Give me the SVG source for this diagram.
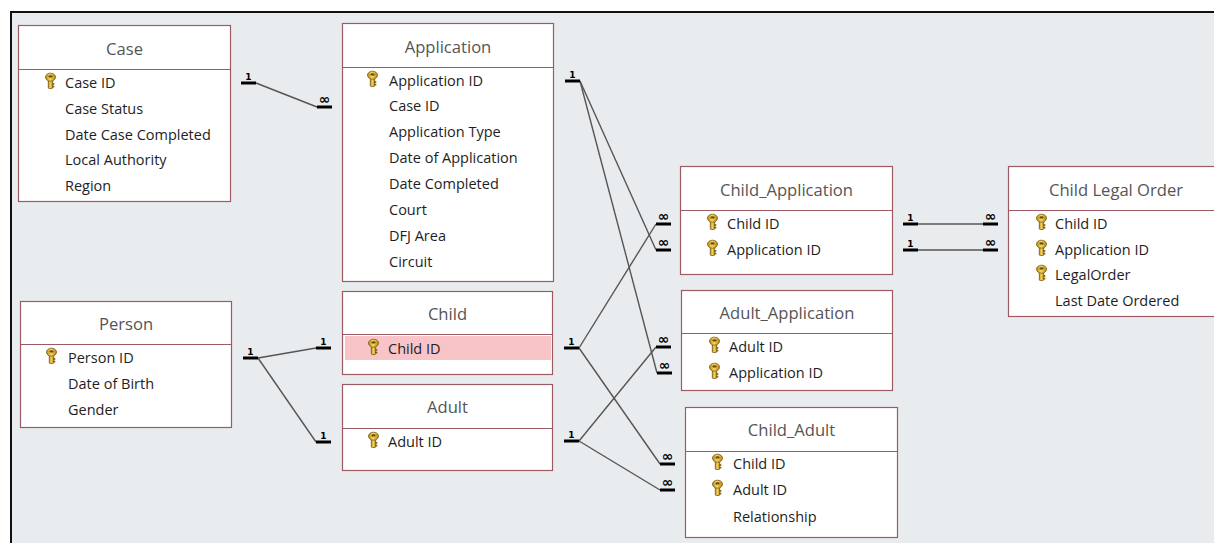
<svg xmlns="http://www.w3.org/2000/svg" width="1214" height="543" viewBox="0 0 1214 543">
<style>
.box{fill:#ffffff;stroke:#9e5a63;stroke-width:1.2}
.div{stroke:#9e5a63;stroke-width:1.2}
.title{font-family:"Open Sans","Liberation Sans",sans-serif;font-size:16.6px;fill:#555555;text-anchor:middle}
.row{font-family:"Open Sans","Liberation Sans",sans-serif;font-size:14.5px;fill:#1e1e1e}
.bar{stroke:#000000;stroke-width:3}
.ln{stroke:#555555;stroke-width:1.4;fill:none}
.one{font-family:"DejaVu Sans",sans-serif;font-weight:bold;font-size:9px;fill:#000;text-anchor:middle}
.many{font-family:"DejaVu Sans",sans-serif;font-weight:bold;font-size:14px;fill:#000;text-anchor:middle}
</style>
<defs>
<linearGradient id="gold" x1="0" y1="0" x2="1" y2="0">
<stop offset="0" stop-color="#b8860b"/>
<stop offset="0.45" stop-color="#f5d66a"/>
<stop offset="1" stop-color="#b8860b"/>
</linearGradient>
<g id="key">
<rect x="3.3" y="6" width="4.4" height="9.5" rx="1" fill="url(#gold)" stroke="#7a5a08" stroke-width="0.8"/>
<rect x="7.3" y="10.2" width="2" height="1.6" fill="#7a5a08"/>
<rect x="7.3" y="12.8" width="2" height="1.6" fill="#7a5a08"/>
<ellipse cx="5.5" cy="4.2" rx="5" ry="4" fill="url(#gold)" stroke="#7a5a08" stroke-width="0.8"/>
<ellipse cx="5.5" cy="3.4" rx="2" ry="1.2" fill="#6b4e06"/>
</g>
</defs>
<rect x="0" y="0" width="1214" height="543" fill="#ffffff"/>
<rect x="11" y="12" width="1210" height="540" fill="#e9ecef"/>
<line x1="10" y1="12" x2="1214" y2="12" stroke="#111" stroke-width="2"/>
<line x1="11" y1="12" x2="11" y2="543" stroke="#111" stroke-width="2"/>

<g id="connectors">
<line class="ln" x1="256" y1="83" x2="317" y2="107"/>
<line class="ln" x1="580" y1="81" x2="656" y2="250"/>
<line class="ln" x1="580" y1="81" x2="657" y2="373"/>
<line class="ln" x1="579" y1="348" x2="656" y2="224"/>
<line class="ln" x1="579" y1="348" x2="660" y2="464"/>
<line class="ln" x1="579" y1="441" x2="656" y2="347"/>
<line class="ln" x1="579" y1="441" x2="660" y2="490"/>
<line class="ln" x1="918" y1="224" x2="983" y2="224"/>
<line class="ln" x1="918" y1="250" x2="983" y2="250"/>
<line class="ln" x1="258" y1="358" x2="316" y2="348"/>
<line class="ln" x1="258" y1="358" x2="316" y2="442"/>

<line class="bar" x1="241" y1="83" x2="256" y2="83"/><text class="one" x="248.5" y="80">1</text>
<line class="bar" x1="317" y1="107" x2="332" y2="107"/><text class="many" x="324.5" y="104">∞</text>
<line class="bar" x1="565" y1="81" x2="580" y2="81"/><text class="one" x="572.5" y="78">1</text>
<line class="bar" x1="656" y1="224" x2="671" y2="224"/><text class="many" x="663.5" y="221">∞</text>
<line class="bar" x1="656" y1="250" x2="671" y2="250"/><text class="many" x="663.5" y="247">∞</text>
<line class="bar" x1="564" y1="348" x2="579" y2="348"/><text class="one" x="571.5" y="345">1</text>
<line class="bar" x1="564" y1="441" x2="579" y2="441"/><text class="one" x="571.5" y="438">1</text>
<line class="bar" x1="656" y1="347" x2="671" y2="347"/><text class="many" x="663.5" y="344">∞</text>
<line class="bar" x1="657" y1="373" x2="672" y2="373"/><text class="many" x="664.5" y="370">∞</text>
<line class="bar" x1="660" y1="464" x2="675" y2="464"/><text class="many" x="667.5" y="461">∞</text>
<line class="bar" x1="660" y1="490" x2="675" y2="490"/><text class="many" x="667.5" y="487">∞</text>
<line class="bar" x1="903" y1="224" x2="918" y2="224"/><text class="one" x="910.5" y="221">1</text>
<line class="bar" x1="903" y1="250" x2="918" y2="250"/><text class="one" x="910.5" y="247">1</text>
<line class="bar" x1="983" y1="224" x2="998" y2="224"/><text class="many" x="990.5" y="221">∞</text>
<line class="bar" x1="983" y1="250" x2="998" y2="250"/><text class="many" x="990.5" y="247">∞</text>
<line class="bar" x1="243" y1="358" x2="258" y2="358"/><text class="one" x="250.5" y="355">1</text>
<line class="bar" x1="316" y1="348" x2="331" y2="348"/><text class="one" x="323.5" y="345">1</text>
<line class="bar" x1="316" y1="442" x2="331" y2="442"/><text class="one" x="323.5" y="439">1</text>
</g>

<g id="case">
<rect class="box" x="18.5" y="25.5" width="212" height="176"/>
<line class="div" x1="18.5" y1="69.5" x2="230.5" y2="69.5"/>
<text class="title" x="124.5" y="55">Case</text>
<use href="#key" x="45" y="73"/>
<text class="row" x="65" y="88">Case ID</text>
<text class="row" x="65" y="114">Case Status</text>
<text class="row" x="65" y="140">Date Case Completed</text>
<text class="row" x="65" y="165">Local Authority</text>
<text class="row" x="65" y="191">Region</text>
</g>

<g id="application">
<rect class="box" x="342.5" y="23.5" width="211" height="258"/>
<line class="div" x1="342.5" y1="67.5" x2="553.5" y2="67.5"/>
<text class="title" x="448" y="53">Application</text>
<use href="#key" x="367" y="71"/>
<text class="row" x="389" y="86">Application ID</text>
<text class="row" x="389" y="111">Case ID</text>
<text class="row" x="389" y="137">Application Type</text>
<text class="row" x="389" y="163">Date of Application</text>
<text class="row" x="389" y="189">Date Completed</text>
<text class="row" x="389" y="215">Court</text>
<text class="row" x="389" y="241">DFJ Area</text>
<text class="row" x="389" y="267">Circuit</text>
</g>

<g id="person">
<rect class="box" x="20.5" y="301.5" width="211" height="126"/>
<line class="div" x1="20.5" y1="344.5" x2="231.5" y2="344.5"/>
<text class="title" x="126" y="330">Person</text>
<use href="#key" x="46" y="348"/>
<text class="row" x="68" y="363">Person ID</text>
<text class="row" x="68" y="389">Date of Birth</text>
<text class="row" x="68" y="415">Gender</text>
</g>

<g id="child">
<rect class="box" x="342.5" y="291.5" width="210" height="83"/>
<line class="div" x1="342.5" y1="334.5" x2="552.5" y2="334.5"/>
<rect x="345" y="336" width="206" height="24" fill="#f8c4c8"/>
<text class="title" x="447.5" y="320">Child</text>
<use href="#key" x="368" y="339"/>
<text class="row" x="388" y="354">Child ID</text>
</g>

<g id="adult">
<rect class="box" x="342.5" y="384.5" width="210" height="86"/>
<line class="div" x1="342.5" y1="428.5" x2="552.5" y2="428.5"/>
<text class="title" x="447.5" y="413">Adult</text>
<use href="#key" x="368" y="432"/>
<text class="row" x="388" y="447">Adult ID</text>
</g>

<g id="child_application">
<rect class="box" x="680.5" y="166.5" width="212" height="108"/>
<line class="div" x1="680.5" y1="210.5" x2="892.5" y2="210.5"/>
<text class="title" x="786.5" y="196">Child_Application</text>
<use href="#key" x="707" y="214"/>
<text class="row" x="727" y="229">Child ID</text>
<use href="#key" x="707" y="240"/>
<text class="row" x="727" y="255">Application ID</text>
</g>

<g id="child_legal_order">
<rect class="box" x="1008.5" y="166.5" width="214" height="150"/>
<line class="div" x1="1008.5" y1="210.5" x2="1222.5" y2="210.5"/>
<text class="title" x="1116" y="196">Child Legal Order</text>
<use href="#key" x="1036" y="214"/>
<text class="row" x="1055" y="229">Child ID</text>
<use href="#key" x="1036" y="240"/>
<text class="row" x="1055" y="255">Application ID</text>
<use href="#key" x="1036" y="265"/>
<text class="row" x="1055" y="280">LegalOrder</text>
<text class="row" x="1055" y="306">Last Date Ordered</text>
</g>

<g id="adult_application">
<rect class="box" x="681.5" y="290.5" width="211" height="100"/>
<line class="div" x1="681.5" y1="333.5" x2="892.5" y2="333.5"/>
<text class="title" x="787" y="319">Adult_Application</text>
<use href="#key" x="709" y="337"/>
<text class="row" x="729" y="352">Adult ID</text>
<use href="#key" x="709" y="363"/>
<text class="row" x="729" y="378">Application ID</text>
</g>

<g id="child_adult">
<rect class="box" x="685.5" y="407.5" width="212" height="130"/>
<line class="div" x1="685.5" y1="451.5" x2="897.5" y2="451.5"/>
<text class="title" x="791.5" y="436">Child_Adult</text>
<use href="#key" x="712" y="454"/>
<text class="row" x="733" y="469">Child ID</text>
<use href="#key" x="712" y="480"/>
<text class="row" x="733" y="495">Adult ID</text>
<text class="row" x="733" y="522">Relationship</text>
</g>
</svg>
